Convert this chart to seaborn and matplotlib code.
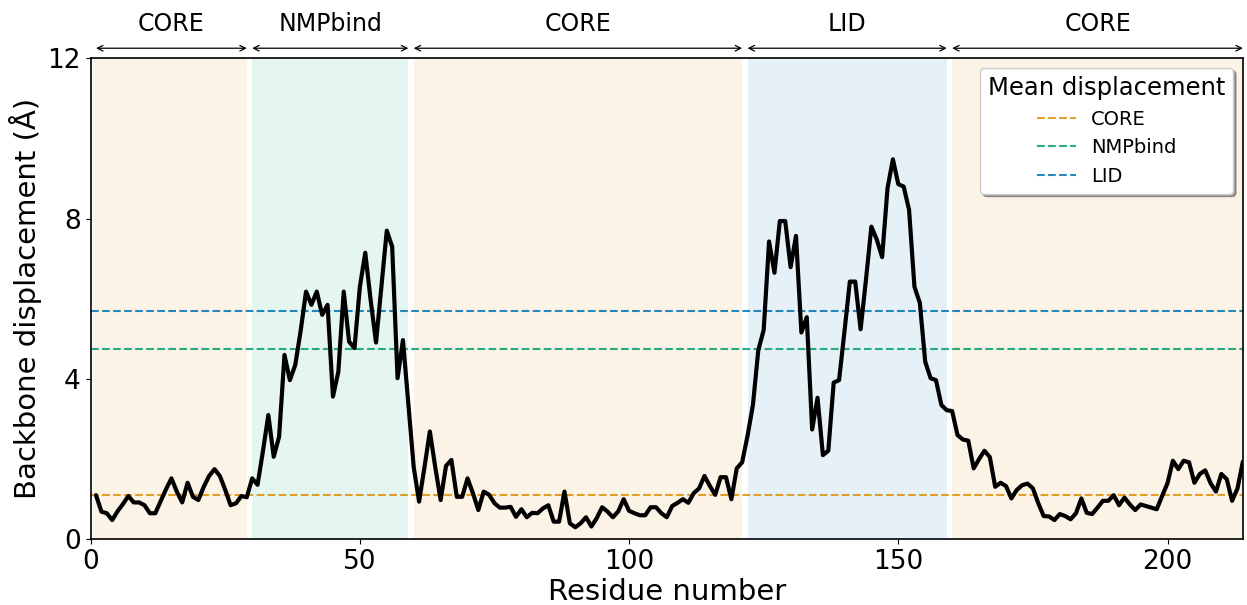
import numpy as np
import pandas as pd
import matplotlib
matplotlib.use("Agg")
import matplotlib.pyplot as plt
import seaborn as sns

# Per-residue backbone displacement (Å), residues 1..214
residues = np.arange(1, 215)
displacement = [
    1.10, 0.69, 0.65, 0.48, 0.70, 0.88, 1.08, 0.92, 0.92, 0.85,
    0.65, 0.65, 0.95, 1.25, 1.52, 1.19, 0.92, 1.41, 1.06, 0.98,
    1.31, 1.58, 1.75, 1.58, 1.23, 0.85, 0.90, 1.08, 1.05, 1.52,
    1.36, 2.20, 3.10, 2.06, 2.56, 4.60, 3.97, 4.35, 5.20, 6.18,
    5.85, 6.18, 5.60, 5.85, 3.56, 4.18, 6.18, 4.93, 4.77, 6.30,
    7.15, 5.97, 4.91, 6.30, 7.70, 7.30, 4.02, 4.97, 3.40, 1.80,
    0.94, 1.80, 2.69, 1.80, 0.98, 1.83, 1.98, 1.06, 1.06, 1.52,
    1.15, 0.73, 1.19, 1.11, 0.90, 0.79, 0.79, 0.81, 0.56, 0.75,
    0.55, 0.66, 0.65, 0.77, 0.85, 0.44, 0.44, 1.19, 0.40, 0.30,
    0.40, 0.55, 0.32, 0.53, 0.80, 0.69, 0.55, 0.70, 1.00, 0.71,
    0.65, 0.60, 0.60, 0.80, 0.80, 0.65, 0.55, 0.83, 0.91, 1.00,
    0.91, 1.15, 1.27, 1.58, 1.33, 1.11, 1.55, 1.55, 1.00, 1.77,
    1.92, 2.58, 3.35, 4.72, 5.22, 7.43, 6.65, 7.94, 7.94, 6.79,
    7.57, 5.16, 5.54, 2.74, 3.53, 2.10, 2.21, 3.91, 3.97, 5.18,
    6.43, 6.43, 5.24, 6.48, 7.80, 7.48, 7.04, 8.76, 9.48, 8.86,
    8.80, 8.22, 6.30, 5.90, 4.43, 4.02, 3.97, 3.35, 3.22, 3.20,
    2.60, 2.49, 2.46, 1.77, 2.00, 2.21, 2.05, 1.31, 1.41, 1.33,
    1.02, 1.23, 1.35, 1.39, 1.27, 0.90, 0.58, 0.57, 0.48, 0.63,
    0.58, 0.50, 0.65, 1.02, 0.66, 0.63, 0.79, 0.96, 0.96, 1.10,
    0.85, 1.04, 0.87, 0.73, 0.87, 0.83, 0.79, 0.75, 1.08, 1.40,
    1.96, 1.75, 1.96, 1.92, 1.41, 1.63, 1.72, 1.40, 1.19, 1.63,
    1.50, 0.96, 1.27, 1.94,
]

# Domain segmentation of the chain
segment_names = ["CORE", "NMPbind", "CORE", "LID", "CORE"]
segment_start = [1, 30, 60, 122, 160]
segment_end = [29, 59, 121, 159, 214]
domain_order = ["CORE", "NMPbind", "LID"]

df = pd.DataFrame({"residue": residues, "disp": displacement})

palette = sns.color_palette("colorblind")
domain_color = {"CORE": palette[1], "NMPbind": palette[2], "LID": palette[0]}

sns.set_style("ticks")
plt.rcParams["font.family"] = ["DejaVu Sans"]
plt.rcParams.update({
    "text.color": "black",
    "axes.labelcolor": "black",
    "xtick.color": "black",
    "ytick.color": "black",
    "axes.edgecolor": "black",
})

fig = plt.figure(figsize=(12.47, 6.05), dpi=100)
ax = fig.add_axes([0.0727, 0.1086, 0.924, 0.795])

# Shaded domain bands
for name, s, e in zip(segment_names, segment_start, segment_end):
    ax.axvspan(s - 0.5 if s == 1 else s, e, color=domain_color[name], alpha=0.1, lw=0)

# Mean displacement per domain
for name in domain_order:
    mask = np.zeros(len(df), dtype=bool)
    for n, s, e in zip(segment_names, segment_start, segment_end):
        if n == name:
            mask |= (df["residue"] >= s) & (df["residue"] <= e)
    mean_val = df.loc[mask, "disp"].mean()
    ax.axhline(mean_val, color=domain_color[name], ls="--", lw=1.5,
               alpha=0.85, label=name)

sns.lineplot(data=df, x="residue", y="disp", color="black", lw=3, ax=ax)

ax.set_xlim(0, 214)
ax.set_ylim(0, 12)
ax.set_yticks([0, 4, 8, 12])
ax.set_xticks([0, 50, 100, 150, 200])
ax.tick_params(labelsize=19, colors="black")
ax.set_xlabel("Residue number", fontsize=21, labelpad=2)
ax.set_ylabel("Backbone displacement (Å)", fontsize=21)
for sp in ax.spines.values():
    sp.set_color("black")
    sp.set_linewidth(1.2)

# Domain arrows and names above the axes
for name, s, e in zip(segment_names, segment_start, segment_end):
    ax.annotate("", xy=(e, 1.021), xytext=(s, 1.021),
                xycoords=("data", "axes fraction"),
                textcoords=("data", "axes fraction"),
                arrowprops=dict(arrowstyle="<->", lw=0.9, color="black",
                                shrinkA=0, shrinkB=0),
                annotation_clip=False)
    ax.text((s + e) / 2, 1.072, name, transform=ax.get_xaxis_transform(),
            ha="center", va="center", fontsize=17, color="black")

leg = ax.legend(title="Mean displacement", loc="upper right", fontsize=14,
                title_fontsize=17.5, shadow=True, framealpha=1,
                handlelength=2.0)
leg.get_frame().set_edgecolor("#cccccc")
for t in leg.get_texts():
    t.set_color("black")
leg.get_title().set_color("black")

fig.savefig("out.png", dpi=100)
